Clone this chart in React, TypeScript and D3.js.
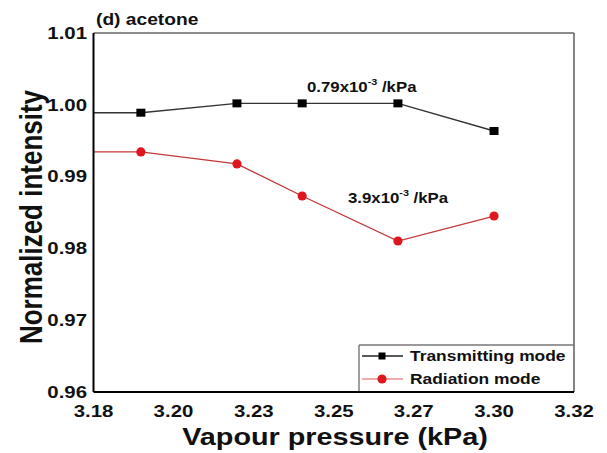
import React from "react";
import * as d3 from "d3";

// vapour pressure (kPa); first entry runs off the left edge of the frame
const pressure = [3.17, 3.1938, 3.2218, 3.2408, 3.2687, 3.2967];
const transmitting = [0.9989, 0.9989, 1.0002, 1.0002, 1.0002, 0.99635];
const radiation = [0.99343, 0.99343, 0.99176, 0.9873, 0.98103, 0.98451];

const xTicks = [3.18, 3.2033, 3.2267, 3.25, 3.2733, 3.2967, 3.32];
const yTicks = [0.96, 0.97, 0.98, 0.99, 1.0, 1.01];
const seriesNames = ["Transmitting mode", "Radiation mode"];

const W = 607;
const H = 453;
const margin = { top: 33, right: 33, bottom: 61, left: 93.5 };
const FONT = "'Liberation Sans', Arial, sans-serif";
const SX = 1.2; // the source figure is stretched a bit horizontally

function Txt({ x, y, size, anchor = "start", rotate = 0, children }: any) {
  return (
    <g transform={`translate(${x},${y}) scale(${SX},1) rotate(${rotate})`}>
      <text
        fontFamily={FONT}
        fontWeight="bold"
        fontSize={size}
        textAnchor={anchor}
        dominantBaseline="central"
        fill="#111"
      >
        {children}
      </text>
    </g>
  );
}

export default function App() {
  const x = d3
    .scaleLinear()
    .domain([3.18, 3.32])
    .range([margin.left, W - margin.right]);
  const y = d3
    .scaleLinear()
    .domain([0.96, 1.01])
    .range([H - margin.bottom, margin.top]);

  const fmt = d3.format(".2f");
  const line = d3
    .line<[number, number]>()
    .x((d) => x(d[0]))
    .y((d) => y(d[1]));

  const blackPts = pressure.map((p, i) => [p, transmitting[i]] as [number, number]);
  const redPts = pressure.map((p, i) => [p, radiation[i]] as [number, number]);

  const x0 = x.range()[0];
  const x1 = x.range()[1];
  const y0 = y.range()[0];
  const y1 = y.range()[1];

  const legX = 359;
  const legY = 345;

  return (
    <svg
      width={W}
      height={H}
      style={{ position: "absolute", left: 0, top: 0, background: "#fff" }}
    >
      <defs>
        <clipPath id="plot">
          <rect x={x0} y={y1} width={x1 - x0} height={y0 - y1} />
        </clipPath>
      </defs>
      <rect width={W} height={H} fill="#fff" />

      {/* frame */}
      <line x1={x0} x2={x1} y1={y1} y2={y1} stroke="#666" strokeWidth={1.6} />
      <line x1={x1} x2={x1} y1={y1} y2={y0} stroke="#666" strokeWidth={1.6} />

      <g clipPath="url(#plot)">
        <path d={line(blackPts) || ""} fill="none" stroke="#333" strokeWidth={1.4} />
        <path d={line(redPts) || ""} fill="none" stroke="#c4383a" strokeWidth={1.3} />
        {blackPts.map((d, i) => (
          <rect
            key={"b" + i}
            x={x(d[0]) - 4.5}
            y={y(d[1]) - 4}
            width={9}
            height={8}
            fill="#000"
          />
        ))}
        {redPts.map((d, i) => (
          <circle key={"r" + i} cx={x(d[0])} cy={y(d[1])} r={4.6} fill="#e0161e" />
        ))}
      </g>

      {/* legend */}
      <line x1={legX} x2={x1} y1={legY} y2={legY} stroke="#777" strokeWidth={1.4} />
      <line x1={legX} x2={legX} y1={legY} y2={y0} stroke="#777" strokeWidth={1.4} />
      <line x1={362} x2={403} y1={356} y2={356} stroke="#222" strokeWidth={1.6} />
      <rect x={378.5} y={352.5} width={7} height={7} fill="#000" />
      <line x1={362} x2={403} y1={379} y2={379} stroke="#e89090" strokeWidth={1.6} />
      <circle cx={382} cy={379} r={4.6} fill="#e0161e" />
      <Txt x={410} y={356} size={14.5}>{seriesNames[0]}</Txt>
      <Txt x={410} y={379} size={14.5}>{seriesNames[1]}</Txt>

      {/* axes */}
      <line x1={x0} x2={x0} y1={y1} y2={y0} stroke="#000" strokeWidth={2} />
      <line x1={x0} x2={x1} y1={y0} y2={y0} stroke="#000" strokeWidth={2} />

      {yTicks.map((t) => (
        <Txt key={"y" + t} x={87} y={y(t)} size={17} anchor="end">
          {fmt(t)}
        </Txt>
      ))}
      {xTicks.map((t) => (
        <Txt key={"x" + t} x={x(t)} y={411} size={17} anchor="middle">
          {fmt(t)}
        </Txt>
      ))}

      <Txt x={335} y={437} size={24} anchor="middle">
        Vapour pressure (kPa)
      </Txt>
      <Txt x={31} y={217} size={26} anchor="middle" rotate={-90}>
        Normalized intensity
      </Txt>

      <Txt x={96} y={20} size={16}>(d) acetone</Txt>

      <g transform={`translate(307,87) scale(${SX},1)`}>
        <text fontFamily={FONT} fontWeight="bold" fontSize={14} dominantBaseline="central" fill="#111">
          0.79x10
          <tspan fontSize={9} dy={-6}>-3</tspan>
          <tspan dy={6}> /kPa</tspan>
        </text>
      </g>
      <g transform={`translate(348,198) scale(${SX},1)`}>
        <text fontFamily={FONT} fontWeight="bold" fontSize={14} dominantBaseline="central" fill="#111">
          3.9x10
          <tspan fontSize={9} dy={-6}>-3</tspan>
          <tspan dy={6}> /kPa</tspan>
        </text>
      </g>
    </svg>
  );
}
